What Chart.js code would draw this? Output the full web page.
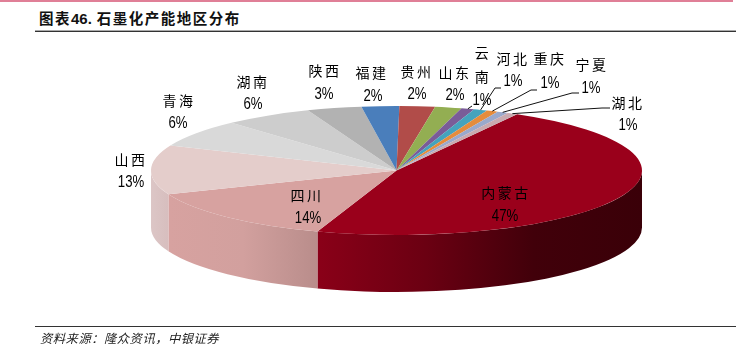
<!DOCTYPE html>
<html>
<head>
<meta charset="utf-8">
<title>石墨化产能地区分布</title>
<script src="https://cdn.jsdelivr.net/npm/chart.js@4/dist/chart.umd.min.js"></script>
<style>
    html, body { margin: 0; padding: 0; background: #fff; }
    #page { position: relative; width: 751px; height: 361px; overflow: hidden; }
    #pie { position: absolute; left: 0; top: 0; }
    .rule { position: absolute; left: 35px; width: 701px; height: 1px; background: #333; }
    #topline { position: absolute; left: 0; top: 0; width: 733px; height: 2px; background: #e07f97; }
    #title { position: absolute; left: 39px; top: 8px; font: bold 14.5px "Noto Sans CJK SC"; letter-spacing: 1.5px; color: #111; line-height: 20px; white-space: pre; }
    #title b { font-family: "Liberation Sans"; font-size: 15px; letter-spacing: 0; }
    #source { position: absolute; left: 40px; top: 329px; font: italic 12.3px "Noto Sans CJK SC"; letter-spacing: 0.5px; color: #222; line-height: 18px; white-space: pre; }
</style>
</head>
<body>
<div id="page">
    <div id="topline"></div>
    <div id="title">图表<b>46.</b> 石墨化产能地区分布</div>
    <div class="rule" style="top:30px;background:#aaa"></div>
    <div class="rule" style="top:31px"></div>
    <canvas id="pie" width="751" height="361"></canvas>
    <div class="rule" style="top:326px"></div>
    <div id="source">资料来源&#xFF1A;隆众资讯&#xFF0C;中银证券</div>
</div>
<script>
"use strict";

const provinces = ['内蒙古', '四川', '山西', '青海', '湖南', '陕西', '福建', '贵州', '山东', '云南', '河北', '重庆', '宁夏', '湖北'];
// shares as they are drawn in the picture, the printed labels are in shareLabels
const shares = [47.05, 13.75, 12.4, 6.9, 5.85, 3.6, 2.47, 2.33, 1.75, 0.86, 0.88, 0.75, 0.72, 0.69];
const shareLabels = ['47%', '14%', '13%', '6%', '6%', '3%', '2%', '2%', '2%', '1%', '1%', '1%', '1%', '1%'];
const sliceColors = ['#9a001b', '#d7a2a0', '#e4cdcb', '#d9d9d9', '#cdcdcd', '#b2b2b2', '#4a7ebb', '#b14c49', '#93ae52', '#7a5c98', '#45a3bd', '#e58c3c', '#9aa9cc', '#c9aab0'];

// front wall gradients, left to right, only the three slices that reach the front
const wallStops = {
    0: ['#8a0018', '#6b0012', '#41000a', '#3a0008'],
    1: ['#d7a2a0', '#d2a09e', '#b98d8b'],
    2: ['#dcc6c6', '#d7bebe']
};

// text centres: one pair for each line of the province name, the last for the percent
const labelSpots = [
    [[506, 193], [505, 216]],
    [[307, 196], [308, 218]],
    [[131, 160], [131, 182]],
    [[179, 101], [178, 123]],
    [[253, 82], [253, 104]],
    [[325, 71], [324, 94]],
    [[372, 73], [373, 96]],
    [[417, 72], [417, 94]],
    [[455, 73], [455, 95]],
    [[483, 53], [483, 77], [482, 100]],
    [[513, 59], [513, 81]],
    [[550, 59], [550, 83]],
    [[592, 65], [591, 88]],
    [[628, 103], [628, 125]]
];

// bends of the leader lines, from the slice outwards
const leaders = {
    9: [[472, 106]],
    10: [[495, 88], [501, 88]],
    11: [[531, 90], [537, 90]],
    12: [[572, 93], [579, 93]],
    13: [[602, 108], [610, 108]]
};

const pieRadius = 245.5;
const squash = 64.5 / 245.5;
const wallDepth = 57;

function drawWalls(chart) {
    const ctx = chart.ctx;
    chart.getDatasetMeta(0).data.forEach((arc, i) => {
        const from = Math.max(arc.startAngle, 0);
        const to = Math.min(arc.endAngle, Math.PI);
        if (from >= to || !wallStops[i]) {
            return;
        }
        const ry = arc.outerRadius * squash;
        const x0 = arc.x + arc.outerRadius * Math.cos(to);
        const x1 = arc.x + arc.outerRadius * Math.cos(from);
        const gr = ctx.createLinearGradient(Math.min(x0, x1), 0, Math.max(x0, x1), 0);
        wallStops[i].forEach((c, k) => gr.addColorStop(k / (wallStops[i].length - 1), c));
        ctx.beginPath();
        ctx.ellipse(arc.x, arc.y, arc.outerRadius, ry, 0, from, to);
        ctx.ellipse(arc.x, arc.y + wallDepth, arc.outerRadius, ry, 0, to, from, true);
        ctx.closePath();
        ctx.fillStyle = gr;
        ctx.fill();
    });
}

function drawLeaders(chart) {
    const ctx = chart.ctx;
    const arcs = chart.getDatasetMeta(0).data;
    ctx.strokeStyle = '#111';
    ctx.lineWidth = 1;
    Object.keys(leaders).forEach(i => {
        const arc = arcs[i];
        const mid = (arc.startAngle + arc.endAngle) / 2;
        ctx.beginPath();
        ctx.moveTo(arc.x + arc.outerRadius * Math.cos(mid), arc.y + arc.outerRadius * squash * Math.sin(mid));
        leaders[i].forEach(p => ctx.lineTo(p[0], p[1]));
        ctx.stroke();
    });
}

function drawLabels(chart) {
    const ctx = chart.ctx;
    ctx.fillStyle = '#000';
    ctx.textAlign = 'center';
    ctx.textBaseline = 'middle';
    provinces.forEach((name, i) => {
        const spots = labelSpots[i];
        const lines = spots.length > 2 ? name.split('') : [name];
        ctx.font = '14px "Noto Sans CJK SC"';
        ctx.letterSpacing = '2.5px';
        lines.forEach((line, k) => ctx.fillText(line, spots[k][0], spots[k][1]));
        ctx.letterSpacing = '0px';

        const pct = spots[spots.length - 1];
        ctx.save();
        ctx.translate(pct[0], pct[1]);
        ctx.scale(0.8, 1);
        ctx.font = '16.5px "Liberation Sans"';
        ctx.fillText(shareLabels[i], 0, 0);
        ctx.restore();
    });
}

const flatPie = {
    id: 'flatPie',
    beforeDatasetsDraw(chart) {
        const arc = chart.getDatasetMeta(0).data[0];
        drawWalls(chart);
        chart.ctx.save();
        chart.ctx.translate(arc.x, arc.y);
        chart.ctx.scale(1, squash);
        chart.ctx.translate(-arc.x, -arc.y);
    },
    afterDatasetsDraw(chart) {
        chart.ctx.restore();
        drawLeaders(chart);
        drawLabels(chart);
    }
};

new Chart(document.getElementById('pie'), {
    type: 'pie',
    data: {
        labels: provinces,
        datasets: [{
            data: shares,
            backgroundColor: sliceColors,
            borderWidth: 0,
            clip: false
        }]
    },
    options: {
        responsive: false,
        animation: false,
        rotation: 29.4,
        radius: pieRadius,
        layout: { padding: { left: 42, right: 0, top: 0, bottom: 20 } },
        plugins: {
            legend: { display: false },
            tooltip: { enabled: false }
        }
    },
    plugins: [flatPie]
});
</script>
</body>
</html>
